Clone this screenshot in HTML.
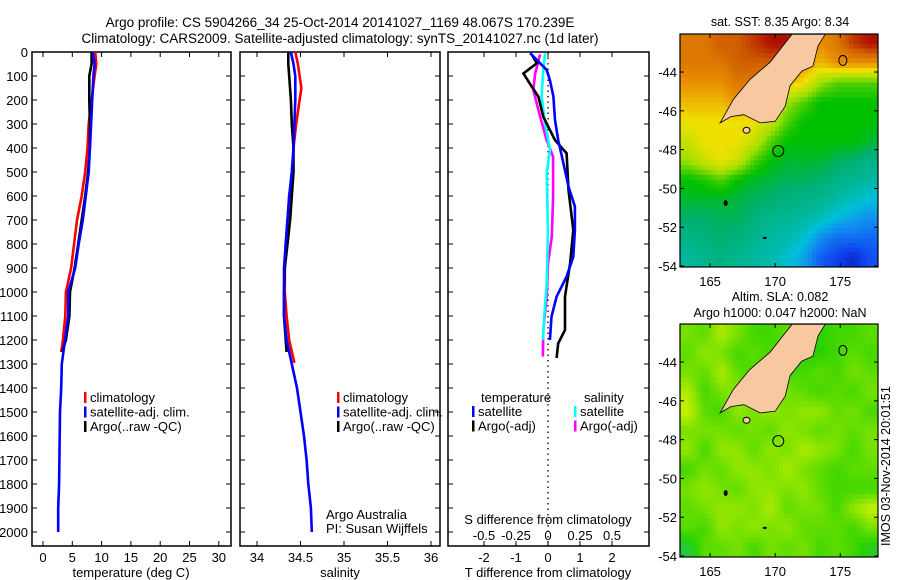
<!DOCTYPE html>
<html><head><meta charset="utf-8"><style>
html,body{margin:0;padding:0;background:#fff}
svg{display:block;font-family:"Liberation Sans",sans-serif}
</style></head><body>
<svg id="fig" width="900" height="580" viewBox="0 0 900 580">
<text x="340" y="27" font-size="13.5" text-anchor="middle">Argo profile: CS 5904266_34 25-Oct-2014 20141027_1169 48.067S 170.239E</text>
<text x="340" y="43" font-size="13.5" text-anchor="middle">Climatology: CARS2009. Satellite-adjusted climatology: synTS_20141027.nc (1d later)</text>
<g id="g"></g>
</svg>
<script>
// ---------- profile data ----------
const tDepth = [0,50,100,200,300,400,500,600,700,800,900,1000,1100,1200,1300,1400,1500,1600,1700,1800,1900,2000];
const tSat   = [8.5,8.8,8.6,8.4,8.2,8.0,7.8,7.3,6.8,6.1,5.5,4.3,4.3,3.75,3.2,3.1,2.9,2.85,2.8,2.75,2.6,2.6];
const tClimDepth = [0,50,100,200,300,400,500,600,700,800,900,1000,1100,1200,1250];
const tClim  = [8.9,9.1,8.8,8.3,7.8,7.6,7.2,6.6,5.8,5.3,4.8,3.9,3.8,3.4,3.1];
const tArgo  = [8.3,8.3,7.9,7.9,8.0,8.0,7.7,7.2,6.6,6.0,5.4,4.6,4.5,3.9,3.3];
const sSat   = [34.39,34.42,34.44,34.44,34.43,34.42,34.40,34.37,34.35,34.33,34.31,34.31,34.31,34.34,34.40,34.46,34.50,34.54,34.57,34.59,34.62,34.63];
const sClimDepth = [0,50,100,150,200,300,400,500,600,700,800,900,1000,1100,1200,1295];
const sClim  = [34.44,34.47,34.49,34.51,34.49,34.45,34.42,34.41,34.37,34.35,34.33,34.32,34.32,34.34,34.37,34.43];
const sArgoDepth = [0,50,100,200,300,400,500,600,700,800,900,1000,1100,1200,1250];
const sArgo  = [34.36,34.36,34.37,34.39,34.40,34.42,34.42,34.40,34.38,34.35,34.32,34.31,34.31,34.33,34.34];
// differences
const dTSatDepth = [5,33,75,117,186,283,367,463,561,644,742,853,936,1019,1103,1200];
const dTSat = [-0.56,-0.35,-0.04,0.06,0.17,0.22,0.32,0.48,0.64,0.84,0.84,0.79,0.58,0.27,0.11,0.06];
const dTArgoDepth = [10,47,89,144,186,269,367,422,575,742,881,1019,1158,1214,1275];
const dTArgo = [-0.51,-0.35,-0.77,-0.51,-0.30,-0.15,0.22,0.58,0.64,0.79,0.69,0.53,0.53,0.32,0.27];
const dSArgoDepth = [10,89,158,269,367,436,603,769,881,1019,1158,1269];
const dSArgo = [-0.062,-0.10,-0.115,-0.062,-0.01,0.04,0.04,0.03,0.0,-0.01,-0.037,-0.04];
const dSSatDepth = [5,75,186,297,408,505,742,964,1103,1200];
const dSSat = [-0.023,-0.037,-0.05,-0.023,0.016,-0.01,0.0,-0.01,-0.03,-0.04];
const depthTicks = [0,100,200,300,400,500,600,700,800,900,1000,1100,1200,1300,1400,1500,1600,1700,1800,1900,2000];
const tTicks = [0,5,10,15,20,25,30];
const sTicks = [34,34.5,35,35.5,36];
const dTTicks = [-2,-1,0,1,2];
const dSTicks = ["-0.5","-0.25","0","0.25","0.5"];
// ---------- map data ----------
const sstGrid = [
[7.5,7.5,8,8,8.5,9,9,8,7,7.5,8.5,9],
[7.5,7.5,7.5,8,8,8,8,7,6.5,7,7,7],
[7,7,7,7.5,7.5,7,6.5,6,5,4.5,4.5,4.5],
[6.5,6.5,6.5,7,7,6,5,4.5,4,4,4,4],
[6,6,6,6,6,5.5,4.5,4,4,4,4,4],
[5.5,6,6,6,5.5,4.5,4,4,4,4,4,3.8],
[5,5.5,6,5.5,4.5,4,3.8,3.8,3.8,3.6,3.5,3.3],
[4,4.2,4.5,4,3.8,3.7,3.6,3.6,3.5,3.3,3.2,3],
[3.8,3.8,3.8,3.7,3.6,3.5,3.4,3.3,3.2,3,2.7,2.5],
[3.5,3.5,3.6,3.6,3.4,3.2,3.1,3,2.8,2.4,2.2,2],
[3.3,3.4,3.5,3.4,3.2,3,2.9,2.6,2,1.6,1.6,1.5],
[3,3.2,3.3,3.2,3,2.9,2.6,2.2,1.4,1,0.6,1.2]];
const slaGrid = [
[0.5,0.4,0.7,0.5,0.3,0.3,0.4,0.3,0.2,0.3,0.3,0.4],
[0.4,0.6,0.5,0.3,0.4,0.3,0.3,0.2,0.2,0.3,0.4,0.3],
[0.5,0.4,0.7,0.4,0.3,0.2,0.3,0.3,0.4,0.3,0.5,0.4],
[0.7,0.3,0.5,0.6,0.4,0.5,0.5,0.4,0.3,0.4,0.3,0.5],
[0.8,0.4,0.3,0.6,0.5,0.6,0.5,0.6,0.6,0.4,0.5,0.3],
[0.5,0.5,0.5,0.4,0.5,0.4,0.6,0.5,0.4,0.5,0.4,0.5],
[0.6,0.3,0.6,0.6,0.4,0.6,0.5,0.7,0.6,0.5,0.3,0.5],
[0.3,0.5,0.4,0.6,0.6,0.5,0.7,0.5,0.4,0.3,0.4,0.4],
[0.5,0.6,0.5,0.4,0.6,0.6,0.5,0.6,0.4,0.3,0.3,0.3],
[0.4,0.5,0.6,0.6,0.5,0.7,0.4,0.5,0.5,0.3,0.6,0.8],
[0.4,0.3,0.6,0.5,0.6,0.5,0.6,0.4,0.4,0.4,0.3,0.5],
[0.0,0.4,0.4,0.5,0.3,0.5,0.4,0.5,0.3,0.4,0.3,0.1]];
const coastLon = [165.77,166.8,168.07,169.6,170.6,171.3,173.85,173.3,172.9,172.05,171.15,170.77,170.0,168.85,167.6,166.6];
const coastLat = [-46.62,-45.4,-44.38,-43.5,-42.65,-42.05,-42.05,-42.65,-43.7,-43.95,-44.7,-45.76,-46.54,-46.62,-46.2,-46.3];
const latTicks = [-44,-46,-48,-50,-52,-54];
const lonTicks = [165,170,175];

const NS='http://www.w3.org/2000/svg', G=document.getElementById('g');
function el(tag, attrs, parent){const e=document.createElementNS(NS,tag);for(const k in attrs)e.setAttribute(k,attrs[k]);(parent||G).appendChild(e);return e;}
function txt(x,y,s,size,anchor,parent){const t=el('text',{x:x,y:y,'font-size':size,'text-anchor':anchor||'middle'},parent);t.textContent=s;return t;}

const Y0=52, YS=0.24;
const yD=d=>Y0+d*YS;
const panels=[{x0:32,x1:231,name:'temperature-panel'},{x0:240,x1:440,name:'salinity-panel'},{x0:448,x1:649,name:'difference-panel'}];
const xT=v=>43+v*5.86, xS=v=>257+(v-34)*87, xDT=v=>548+v*32, xDS=v=>548+v*128;

panels.forEach((p,i)=>{
  const g=el('g',{});
  
  
  el('rect',{x:p.x0,y:52,width:p.x1-p.x0,height:494,fill:'none',stroke:'#000','stroke-width':1.5},g);
  depthTicks.forEach(d=>{
    el('line',{x1:p.x0,x2:p.x0+5,y1:yD(d),y2:yD(d),stroke:'#000'},g);
    el('line',{x1:p.x1-5,x2:p.x1,y1:yD(d),y2:yD(d),stroke:'#000'},g);
  });
});
depthTicks.forEach(d=>{const t=txt(28,yD(d)+5,String(d),13,'end');

});
function xticks(vals,fx,labels,ly){vals.forEach((v,i)=>{const x=fx(v);
 el('line',{x1:x,x2:x,y1:52,y2:57,stroke:'#000'});el('line',{x1:x,x2:x,y1:541,y2:546,stroke:'#000'});
 if(labels){const t=txt(x,ly,labels[i],13);
 
 }});}
xticks(tTicks,xT,tTicks.map(String),562);
xticks(sTicks,xS,sTicks.map(String),562);
xticks(dTTicks,xDT,dTTicks.map(String),562);
dTTicks.forEach((v,i)=>{const t=txt(xDT(v),540,dSTicks[i],13);

});
[['temperature (deg C)',131],['salinity',340],['T difference from climatology',548]].forEach(a=>{const t=txt(a[1],577,a[0],13);

});
{const t=txt(548,524,'S difference from climatology',13);}
el('line',{x1:548,x2:548,y1:52,y2:546,stroke:'#000','stroke-dasharray':'1.5,4','stroke-width':1.3});

function line(depths,vals,fx,color,name){
  const pts=depths.map((d,i)=>fx(vals[i]).toFixed(1)+','+yD(d).toFixed(1)).join(' ');
  const l=el('polyline',{points:pts,fill:'none',stroke:color,'stroke-width':2.6,'stroke-linejoin':'miter'});
  
  
}
line(tClimDepth,tClim,xT,'#f00','temp-climatology');
line(tClimDepth,tArgo,xT,'#000','temp-argo');
line(tDepth,tSat,xT,'#00f','temp-satellite-adj');
line(sClimDepth,sClim,xS,'#f00','sal-climatology');
line(sArgoDepth,sArgo,xS,'#000','sal-argo');
line(tDepth,sSat,xS,'#00f','sal-satellite-adj');
line(dSArgoDepth,dSArgo,xDS,'#f0f','sdiff-argo');
line(dSSatDepth,dSSat,xDS,'#0ff','sdiff-satellite');
line(dTArgoDepth,dTArgo,xDT,'#000','tdiff-argo');
line(dTSatDepth,dTSat,xDT,'#00f','tdiff-satellite');

function legend(x,y,items,name){const g=el('g',{});
 
 
 items.forEach((it,i)=>{el('rect',{x:x,y:y+i*14.5-10,width:2.5,height:11,fill:it[1]},g);txt(x+6,y+i*14.5,it[0],13,'start',g);});}
legend(84,402,[['climatology','#f00'],['satellite-adj. clim.','#00f'],['Argo(..raw -QC)','#000']],'temp-legend');
legend(337,402,[['climatology','#f00'],['satellite-adj. clim.','#00f'],['Argo(..raw -QC)','#000']],'sal-legend');
txt(481,402,'temperature',13,'start');txt(584,402,'salinity',13,'start');
legend(472,416,[['satellite','#00f'],['Argo(-adj)','#000']],'tdiff-legend');
legend(574,416,[['satellite','#0ff'],['Argo(-adj)','#f0f']],'sdiff-legend');
txt(326,519,'Argo Australia',13,'start');txt(326,533,'PI: Susan Wijffels',13,'start');

// ---------- maps ----------
const sstStops=[[0,'#0010a0'],[1,'#1040f0'],[2,'#1090f0'],[2.5,'#00c0d8'],[3,'#00b8a0'],[3.5,'#00b070'],[4,'#00c000'],[5,'#a0e000'],[6,'#f0e000'],[7,'#e89000'],[8,'#d06000'],[9,'#b01000']];
function hex(c){return [1,3,5].map(i=>parseInt(c.substr(i,2),16));}
function sstColor(v){if(v<=sstStops[0][0])return sstStops[0][1];for(let i=1;i<sstStops.length;i++){if(v<=sstStops[i][0]){const a=sstStops[i-1],b=sstStops[i],t=(v-a[0])/(b[0]-a[0]);const ca=hex(a[1]),cb=hex(b[1]);return 'rgb('+ca.map((c,k)=>Math.round(c+(cb[k]-c)*t)).join(',')+')';}}return sstStops[sstStops.length-1][1];}
function slaColor(v){const a=[40,200,60],m=[40,210,0],b=[200,240,0];if(v<0.2){const t=v/0.2;return 'rgb('+a.map((c,k)=>Math.round(c+(m[k]-c)*t)).join(',')+')';}const t=(v-0.2)/0.6;return 'rgb('+m.map((c,k)=>Math.round(c+(b[k]-c)*Math.min(1,t))).join(',')+')';}
function sample(grid,fr,fc){const nr=grid.length,nc=grid[0].length;
  const r=Math.max(0,Math.min(nr-1,fr-0.5)),c=Math.max(0,Math.min(nc-1,fc-0.5));
  const r0=Math.floor(r),c0=Math.floor(c),r1=Math.min(nr-1,r0+1),c1=Math.min(nc-1,c0+1),tr=r-r0,tc=c-c0;
  return (grid[r0][c0]*(1-tc)+grid[r0][c1]*tc)*(1-tr)+(grid[r1][c0]*(1-tc)+grid[r1][c1]*tc)*tr;}
function drawMap(m,grid,colorFn,name){
  const g=el('g',{});
  
  
  const lonX=l=>m.x0+(l-m.lon0)*(m.x1-m.x0)/(m.lon1-m.lon0);
  const latY=l=>m.y0+(m.lat0-l)*(m.y1-m.y0)/(m.lat0-m.lat1);
  const nr=grid.length,nc=grid[0].length,S=4,cw=(m.x1-m.x0)/(nc*S),ch=(m.y1-m.y0)/(nr*S);
  for(let r=0;r<nr*S;r++)for(let c=0;c<nc*S;c++){
    const v=sample(grid,(r+0.5)/S,(c+0.5)/S);
    el('rect',{x:(m.x0+c*cw).toFixed(2),y:(m.y0+r*ch).toFixed(2),width:(cw+0.5).toFixed(2),height:(ch+0.5).toFixed(2),fill:colorFn(v)},g);
  }
  const pts=coastLon.map((l,i)=>lonX(l).toFixed(1)+','+latY(coastLat[i]).toFixed(1)).join(' ');
  const land=el('polygon',{points:pts,fill:'#f8c8a0',stroke:'#000','stroke-width':0.8},g);
  
  
  el('ellipse',{cx:lonX(167.8),cy:latY(-47.0),rx:3.5,ry:3,fill:'#f8c8a0',stroke:'#000','stroke-width':1},g);
  el('ellipse',{cx:lonX(166.2),cy:latY(-50.75),rx:2,ry:3,fill:'#000'},g);
  el('ellipse',{cx:lonX(169.2),cy:latY(-52.55),rx:2,ry:1.2,fill:'#000'},g);
  el('circle',{cx:lonX(170.24),cy:latY(-48.07),r:5.5,fill:'none',stroke:'#000','stroke-width':1},g);
  el('ellipse',{cx:lonX(175.2),cy:latY(-43.4),rx:4,ry:5,fill:'none',stroke:'#000','stroke-width':1},g);
  el('rect',{x:m.x0,y:m.y0,width:m.x1-m.x0,height:m.y1-m.y0,fill:'none',stroke:'#000','stroke-width':1.2},g);
  latTicks.forEach(l=>{const y=latY(l);el('line',{x1:m.x0,x2:m.x0+4,y1:y,y2:y,stroke:'#000'},g);el('line',{x1:m.x1-4,x2:m.x1,y1:y,y2:y,stroke:'#000'},g);txt(m.x0-3,y+5,String(l),13,'end',g);});
  lonTicks.forEach(l=>{const x=lonX(l);el('line',{x1:x,x2:x,y1:m.y0,y2:m.y0+4,stroke:'#000'},g);el('line',{x1:x,x2:x,y1:m.y1-4,y2:m.y1,stroke:'#000'},g);txt(x,m.y1+19,String(l),13,'middle',g);});
}
drawMap({x0:680,x1:878,y0:34,y1:267,lon0:162.69,lon1:177.9,lat0:-42.04,lat1:-54.05},sstGrid,sstColor,'sst-map');
drawMap({x0:680,x1:878,y0:324,y1:557,lon0:162.69,lon1:177.9,lat0:-42.04,lat1:-54.05},slaGrid,slaColor,'sla-map');
txt(780,26,'sat. SST: 8.35 Argo: 8.34',12.5);
txt(780,301,'Altim. SLA: 0.082',12.5);
txt(780,317,'Argo h1000: 0.047 h2000: NaN',12.5);
const r=txt(0,0,'IMOS 03-Nov-2014 20:01:51',12.5,'start');
r.setAttribute('transform','translate(890,546) rotate(-90)');


</script>
</body></html>
